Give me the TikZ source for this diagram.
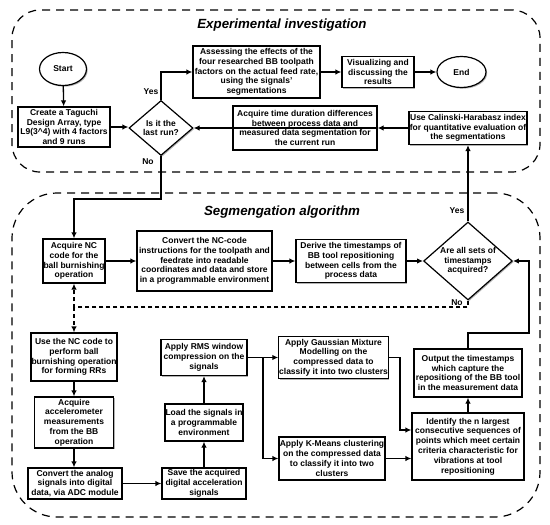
\documentclass[tikz,border=0pt]{standalone}
\usepackage{fontspec}
\setmainfont{Liberation Sans}
\usetikzlibrary{shapes.geometric,arrows.meta,shadows}
\begin{document}
\begin{tikzpicture}[x=1pt,y=-1pt,
  every node/.style={font=\fontsize{8.5}{9.8}\selectfont\bfseries},
  shad/.style={drop shadow={shadow xshift=1.2pt,shadow yshift=-1.2pt,opacity=0.3,fill=black}},
  bx/.style 2 args={draw,line width=1.2pt,fill=white,align=center,inner sep=0.3pt,
    minimum width=#1 pt,minimum height=#2 pt,shad},
  ell/.style 2 args={ellipse,draw,line width=1.2pt,fill=white,inner sep=0pt,
    minimum width=#1 pt,minimum height=#2 pt,shad},
  dia/.style 2 args={diamond,draw,line width=1.2pt,fill=white,align=center,inner sep=0pt,
    minimum width=#1 pt,minimum height=#2 pt,shad},
  frame/.style={draw,line width=1.2pt,dash pattern=on 8pt off 6pt},
  arr/.style={line width=1.3pt,-{Latex[length=6pt,width=5.5pt]}},
  darr/.style={line width=1.5pt,dash pattern=on 4pt off 3pt,-{Latex[length=6pt,width=5.5pt]}},
  lbl/.style={inner sep=0pt},
  ttl/.style={font=\fontsize{13.3}{15}\selectfont\bfseries\itshape}
]
\useasboundingbox (0,0) rectangle (550,525);
\node[frame,rounded corners=28pt,minimum width=528pt,minimum height=162pt] (fexp) at (276,91) {};
\node[frame,rounded corners=45pt,minimum width=528pt,minimum height=324pt] (fseg) at (276,355) {};
\node[ttl] (t1) at (282,25) {Experimental investigation};
\node[ttl] (t2) at (282,212) {Segmengation algorithm};

% experimental investigation
\node[ell={47}{33}] (start) at (63,69) {Start};
\node[bx={92}{40}] (tag) at (64,127) {Create a Taguchi\\Design Array, type\\L9(3\textasciicircum 4) with 4 factors\\and 9 runs};
\node[dia={64}{55},aspect=1.16] (d1) at (161,128) {Is it the\\last run?};
\node[bx={127}{52}] (assess) at (256.5,72) {Assessing the effects of the\\four researched BB toolpath\\factors on the actual feed rate,\\using the signals'\\segmentations};
\node[bx={72}{31}] (vis) at (378,72) {Visualizing and\\discussing the\\results};
\node[ell={49}{31}] (end) at (461.5,72) {End};
\node[bx={144}{44}] (acqt) at (305,128) {Acquire time duration differences\\between process data and\\measured data segmentation for\\the current run};
\node[bx={118}{33}] (cal) at (468,128) {Use Calinski-Harabasz index\\for quantitative evaluation of\\the segmentations};

% segmentation algorithm
\node[bx={62}{44}] (acqnc) at (74,261) {Acquire NC\\code for the\\ball burnishing\\operation};
\node[bx={135}{60}] (convnc) at (204.5,261) {Convert the NC-code\\instructions for the toolpath and\\feedrate into readable\\coordinates and data and store\\in a programmable environment};
\node[bx={110}{43}] (derive) at (351,261) {Derive the timestamps of\\BB tool repositioning\\between cells from the\\process data};
\node[dia={88}{78},aspect=1.2] (d2) at (468,261) {Are all sets of\\timestamps\\acquired?};
\node[bx={86}{48}] (usenc) at (74,357) {Use the NC code to\\perform ball\\burnishing operation\\for forming RRs};
\node[bx={79}{51}] (accel) at (74,422.5) {Acquire\\accelerometer\\measurements\\from the BB\\operation};
\node[bx={94}{31}] (convan) at (75,483.5) {Convert the analog\\signals into digital\\data, via ADC module};
\node[bx={84}{31}] (save) at (204,483.5) {Save the acquired\\digital acceleration\\signals};
\node[bx={78}{37}] (load) at (204,422.5) {Load the signals in\\a programmable\\environment};
\node[bx={86}{36}] (rms) at (204,357.5) {Apply RMS window\\compression on the\\signals};
\node[bx={109}{42}] (gmm) at (333.5,357.5) {Apply Gaussian Mixture\\Modelling on the\\compressed data to\\classify it into two clusters};
\node[bx={106}{43}] (kmeans) at (332,458.5) {Apply K-Means clustering\\on the compressed data\\to classify it into two\\clusters};
\node[bx={112}{67}] (ident) at (468,446.5) {Identify the n largest\\consecutive sequences of\\points which meet certain\\criteria characteristic for\\vibrations at tool\\repositioning};
\node[bx={108}{48}] (output) at (468,373) {Output the timestamps\\which capture the\\repositiong of the BB tool\\in the measurement data};

% labels
\node[lbl] (y1) at (151,92) {Yes};
\node[lbl] (n1l) at (148,162) {No};
\node[lbl] (y2) at (457,211) {Yes};
\node[lbl] (n2l) at (457,303) {No};

% coordinates
\coordinate (n1) at (161,199);
\coordinate (n2) at (74,307);
\coordinate (br) at (263,357.5);
\coordinate (g1) at (400,430);
\coordinate (o1) at (529,333);

% connectors
\draw[arr] (start) -- (tag);
\draw[arr] (tag.east) -- (tag.east -| d1.west);
\draw[arr] (d1.north) |- (assess.west);
\draw[arr] (assess.east |- vis.west) -- (vis.west);
\draw[arr] (vis.east) -- (end.west);
\draw[arr] (cal.west) -- (cal.west -| acqt.east);
\draw[arr] (acqt.east |- d1.east) -- (d1.east);
\draw[arr] (d1.south) -- (n1) -| (acqnc.north);
\draw[arr] (acqnc.east) -- (convnc.west);
\draw[arr] (convnc.east) -- (derive.west);
\draw[arr] (derive.east) -- (d2.west);
\draw[arr] (d2.north) -- (cal.south);
\draw[darr] (d2.south) |- (n2) -- (acqnc.south);
\draw[darr] (n2) -- (usenc.north);
\draw[arr] (usenc) -- (accel);
\draw[arr] (accel) -- (accel.south |- convan.north);
\draw[arr] (convan.east) -- (convan.east -| save.west);
\draw[arr] (save) -- (load);
\draw[arr] (load) -- (rms);
\draw[arr] (rms.east) -- (br) -- (gmm.west);
\draw[arr] (br) |- (kmeans.west);
\draw[arr] (gmm.east) -| (g1) -- (g1 -| ident.west);
\draw[arr] (kmeans.east) -- (kmeans.east -| ident.west);
\draw[arr] (ident) -- (output);
\draw[arr] (output.north) |- (o1) |- (d2.east);
\end{tikzpicture}
\end{document}
